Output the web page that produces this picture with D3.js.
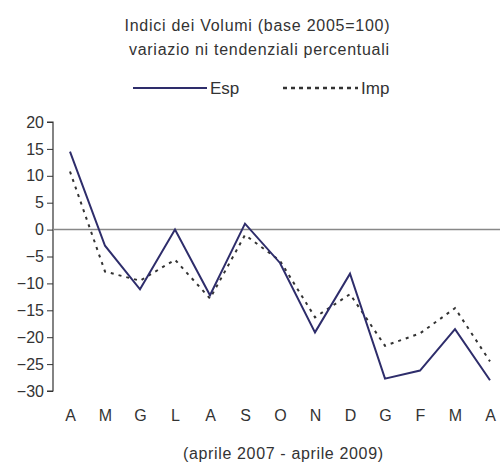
<!DOCTYPE html>
<html><head><meta charset="utf-8">
<script src="https://cdn.jsdelivr.net/npm/d3@7"></script>
<style>body{margin:0;background:#fff}svg{display:block}text{font-family:"Liberation Sans",Arial,sans-serif;fill:#333}</style>
</head><body>
<svg id="c" width="500" height="462"></svg>
<script>
const months = ["A","M","G","L","A","S","O","N","D","G","F","M","A"];
const esp = [14.5,-3,-11.1,0,-12.2,1.1,-6.2,-19.1,-8.2,-27.7,-26.2,-18.5,-28];
const imp = [10.8,-7.8,-9.5,-5.6,-12.8,-1,-5.8,-16.3,-12,-21.6,-19.3,-14.6,-24.5];
const yTicks = [20,15,10,5,0,-5,-10,-15,-20,-25,-30];
const titleLines = ["Indici dei Volumi (base 2005=100)","variazio ni tendenziali percentuali"];
const xTitle = "(aprile 2007 - aprile 2009)";
const seriesNames = ["Esp","Imp"];

const FS = 16;
const svg = d3.select("#c");
const x = d3.scalePoint().domain(d3.range(months.length)).range([70,490]);
const y = d3.scaleLinear().domain([-30,20]).range([391,122]);

svg.append("text").attr("x",257).attr("y",31).attr("text-anchor","middle").attr("font-size",FS).attr("textLength",265).text(titleLines[0]);
svg.append("text").attr("x",259).attr("y",55).attr("text-anchor","middle").attr("font-size",FS).attr("textLength",260).text(titleLines[1]);

// legend
svg.append("line").attr("x1",133).attr("x2",207).attr("y1",88).attr("y2",88).attr("stroke","#2e2d6b").attr("stroke-width",2);
svg.append("text").attr("x",210).attr("y",94).attr("font-size",17).text(seriesNames[0]);
svg.append("line").attr("x1",283).attr("x2",358).attr("y1",88).attr("y2",88).attr("stroke","#333").attr("stroke-width",2.5).attr("stroke-dasharray","4,4");
svg.append("text").attr("x",361).attr("y",94).attr("font-size",17).text(seriesNames[1]);

// y axis
const ya = svg.append("g").attr("transform","translate(53,0)")
  .call(d3.axisLeft(y).tickValues(yTicks).tickSize(6).tickPadding(3).tickFormat(d3.format("d")));
ya.select(".domain").attr("stroke","#333").attr("stroke-width",1.2).attr("d","M-6,122H0V391H-6");
ya.selectAll(".tick line").attr("stroke","#333");
ya.selectAll(".tick text").attr("font-size",FS).attr("fill","#333").attr("font-family","Liberation Sans, Arial, sans-serif");

// zero line
svg.append("line").attr("x1",53).attr("x2",500).attr("y1",y(0)).attr("y2",y(0)).attr("stroke","#888").attr("stroke-width",1.5);

// x labels
const xa = svg.append("g").attr("transform","translate(0,391)")
  .call(d3.axisBottom(x).tickSize(0).tickPadding(19).tickFormat(i=>months[i]));
xa.select(".domain").remove();
xa.selectAll(".tick text").attr("font-size",FS).attr("fill","#333").attr("font-family","Liberation Sans, Arial, sans-serif");

svg.append("text").attr("x",283).attr("y",459).attr("text-anchor","middle").attr("font-size",FS).attr("textLength",200).text(xTitle);

const line = d3.line().x((d,i)=>x(i)).y(d=>y(d));
svg.append("path").datum(imp).attr("d",line).attr("fill","none").attr("stroke","#333").attr("stroke-width",2).attr("stroke-dasharray","3,5");
svg.append("path").datum(esp).attr("d",line).attr("fill","none").attr("stroke","#2e2d6b").attr("stroke-width",2);
</script>
</body></html>
